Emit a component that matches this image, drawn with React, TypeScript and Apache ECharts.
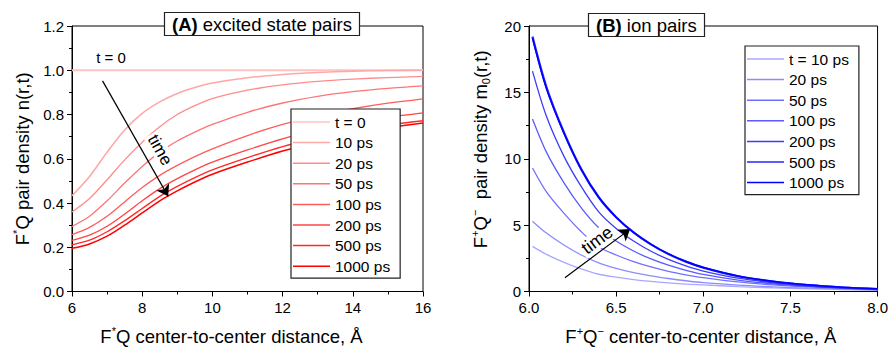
import React, { useEffect, useRef } from "react";
import * as echarts from "echarts";

// ---------- Panel A: excited state pairs ----------
const xA = [6, 6.5, 7, 7.5, 8, 8.5, 9, 9.5, 10, 11, 12, 13, 14, 15, 16];
const namesA = ["A0", "A10", "A20", "A50", "A100", "A200", "A500", "A1000"];
const labelsA = ["t = 0", "10 ps", "20 ps", "50 ps", "100 ps", "200 ps", "500 ps", "1000 ps"];
const nA_t0 = [1, 1, 1, 1, 1, 1, 1, 1, 1, 1, 1, 1, 1, 1, 1];
const nA_10 = [0.433, 0.52, 0.63, 0.73, 0.805, 0.857, 0.895, 0.922, 0.942, 0.966, 0.981, 0.99, 0.996, 0.999, 1.0];
const nA_20 = [0.359, 0.42, 0.505, 0.595, 0.675, 0.745, 0.8, 0.84, 0.872, 0.91, 0.934, 0.95, 0.96, 0.967, 0.972];
const nA_50 = [0.294, 0.34, 0.41, 0.49, 0.565, 0.63, 0.68, 0.72, 0.755, 0.81, 0.852, 0.882, 0.903, 0.918, 0.929];
const nA_100 = [0.257, 0.29, 0.34, 0.405, 0.47, 0.525, 0.57, 0.61, 0.645, 0.705, 0.755, 0.795, 0.826, 0.851, 0.871];
const nA_200 = [0.231, 0.255, 0.295, 0.35, 0.41, 0.465, 0.51, 0.55, 0.585, 0.64, 0.69, 0.73, 0.762, 0.787, 0.807];
const nA_500 = [0.211, 0.232, 0.27, 0.32, 0.375, 0.43, 0.475, 0.515, 0.55, 0.605, 0.655, 0.695, 0.728, 0.753, 0.772];
const nA_1000 = [0.195, 0.215, 0.25, 0.3, 0.355, 0.41, 0.455, 0.495, 0.53, 0.585, 0.635, 0.675, 0.71, 0.74, 0.762];
const seriesA = [nA_t0, nA_10, nA_20, nA_50, nA_100, nA_200, nA_500, nA_1000];
const colorsA = ["#ffc4c4", "#ffa8a8", "#ff8c8c", "#ff7474", "#ff5c5c", "#ff4444", "#ff2a2a", "#ff0000"];
const widthsA = [2, 1.6, 1.3, 1.3, 1.3, 1.3, 1.4, 1.5];
const arrowA = [[6.87, 0.952], [8.74, 0.43]];

// ---------- Panel B: ion pairs ----------
const xB = [6.02, 6.1, 6.2, 6.3, 6.4, 6.5, 6.6, 6.7, 6.8, 6.9, 7.0, 7.2, 7.4, 7.6, 7.8, 8.0];
const namesB = ["B10", "B20", "B50", "B100", "B200", "B500", "B1000"];
const labelsB = ["t = 10 ps", "20 ps", "50 ps", "100 ps", "200 ps", "500 ps", "1000 ps"];
const mB_10 = [3.4, 2.8, 2.2, 1.7, 1.3, 1.08, 0.9, 0.76, 0.65, 0.56, 0.5, 0.37, 0.27, 0.2, 0.15, 0.1];
const mB_20 = [5.3, 4.4, 3.5, 2.75, 2.16, 1.75, 1.43, 1.18, 0.98, 0.81, 0.67, 0.48, 0.35, 0.25, 0.18, 0.12];
const mB_50 = [9.3, 7.5, 5.9, 4.5, 3.35, 2.75, 2.25, 1.85, 1.52, 1.26, 1.04, 0.72, 0.5, 0.35, 0.24, 0.15];
const mB_100 = [13.0, 10.5, 8.2, 6.3, 4.8, 3.8, 3.05, 2.45, 1.98, 1.6, 1.29, 0.86, 0.58, 0.39, 0.26, 0.16];
const mB_200 = [16.6, 13.2, 10.2, 7.9, 6.0, 4.75, 3.8, 3.03, 2.42, 1.93, 1.54, 1.0, 0.66, 0.43, 0.28, 0.17];
const mB_500 = [19.2, 15.4, 12.0, 9.2, 7.1, 5.6, 4.45, 3.55, 2.82, 2.25, 1.8, 1.15, 0.75, 0.48, 0.3, 0.18];
const mB_1000 = [19.1, 15.3, 11.95, 9.2, 7.1, 5.6, 4.45, 3.55, 2.83, 2.26, 1.81, 1.17, 0.77, 0.5, 0.32, 0.2];
const seriesB = [mB_10, mB_20, mB_50, mB_100, mB_200, mB_500, mB_1000];
const colorsB = ["#a8a8ff", "#8c8cff", "#7070ff", "#5a5aff", "#3c3cff", "#2424ff", "#0000ff"];
const widthsB = [1.3, 1.3, 1.3, 1.3, 1.3, 2.2, 1.5];
const arrowB = [[6.206, 1.04], [6.58, 4.7]];

const FONT = '"Liberation Sans", Arial, Helvetica, sans-serif';
const LEGEND_ICON = "path://M0,0 H74 V3 H0 Z";

const nameRich = {
  n: { fontSize: 18.5, fontFamily: FONT, color: "#000" },
  sup: { fontSize: 11, fontFamily: FONT, color: "#000", verticalAlign: "top", lineHeight: 22 },
  sub: { fontSize: 11, fontFamily: FONT, color: "#000", verticalAlign: "bottom", lineHeight: 22 },
};

function axisCommon(min: number, max: number, interval: number, digits: number) {
  return {
    type: "value",
    min,
    max,
    interval,
    axisLine: { show: true, onZero: false, lineStyle: { color: "#000", width: 1 } },
    axisTick: { show: true, length: 5, lineStyle: { color: "#000", width: 1 } },
    minorTick: { show: true, splitNumber: 2, length: 3, lineStyle: { color: "#000", width: 1 } },
    splitLine: { show: false },
    axisLabel: {
      color: "#000",
      fontSize: 15,
      fontFamily: FONT,
      margin: 8,
      formatter: (v: number) => v.toFixed(digits),
    },
  };
}

export default function App() {
  const ref = useRef<HTMLDivElement>(null);
  useEffect(() => {
    if (!ref.current) return;
    const chart = echarts.init(ref.current, null, { renderer: "svg" });

    const series: any[] = [];
    seriesA.forEach((arr, i) => {
      const s: any = {
        name: namesA[i],
        type: "line",
        xAxisIndex: 0,
        yAxisIndex: 0,
        data: xA.map((x, j) => [x, arr[j]]),
        smooth: 0.3,
        symbol: "none",
        lineStyle: { color: colorsA[i], width: widthsA[i] },
        itemStyle: { color: colorsA[i] },
        silent: true,
        z: 2,
      };
      if (i === 0) {
        s.markLine = {
          silent: true,
          symbol: ["none", "arrow"],
          symbolSize: 11,
          label: { show: false },
          lineStyle: { color: "#000", width: 1.2, type: "solid" },
          data: [[{ coord: arrowA[0] }, { coord: arrowA[1] }]],
        };
      }
      series.push(s);
    });
    seriesB.forEach((arr, i) => {
      const s: any = {
        name: namesB[i],
        type: "line",
        xAxisIndex: 1,
        yAxisIndex: 1,
        data: xB.map((x, j) => [x, arr[j]]),
        smooth: 0.3,
        symbol: "none",
        lineStyle: { color: colorsB[i], width: widthsB[i] },
        itemStyle: { color: colorsB[i] },
        silent: true,
        z: 2,
      };
      if (i === 0) {
        s.markLine = {
          silent: true,
          symbol: ["none", "arrow"],
          symbolSize: 11,
          label: { show: false },
          lineStyle: { color: "#000", width: 1.2, type: "solid" },
          data: [[{ coord: arrowB[0] }, { coord: arrowB[1] }]],
        };
      }
      series.push(s);
    });

    const legendCommon = {
      orient: "vertical",
      backgroundColor: "#fff",
      borderColor: "#222",
      borderWidth: 1.2,
      icon: LEGEND_ICON,
      itemWidth: 37,
      itemHeight: 14,
      itemGap: 4.6,
      selectedMode: false,
      textStyle: { color: "#000", fontSize: 15.5, fontFamily: FONT },
      z: 10,
    };

    const titleRich = {
      b: { fontSize: 18.5, fontWeight: "bold", fontFamily: FONT, color: "#000" },
      n: { fontSize: 18.5, fontWeight: "normal", fontFamily: FONT, color: "#000" },
    };

    const option: any = {
      animation: false,
      title: [
        {
          left: 164,
          top: 12,
          text: "{b|(A)}{n| excited state pairs}",
          textStyle: { fontWeight: "normal", rich: titleRich },
          backgroundColor: "#fff",
          borderColor: "#222",
          borderWidth: 1.2,
          padding: [3, 8, 2, 8],
          z: 10,
        },
        {
          left: 588,
          top: 13,
          text: "{b|(B)}{n| ion pairs}",
          textStyle: { fontWeight: "normal", rich: titleRich },
          backgroundColor: "#fff",
          borderColor: "#222",
          borderWidth: 1.2,
          padding: [3, 8, 2, 8],
          z: 10,
        },
      ],
      legend: [
        {
          ...legendCommon,
          left: 291,
          top: 109,
          padding: [5, 10, 4, 2],
          data: namesA,
          formatter: (name: string) => labelsA[namesA.indexOf(name)],
        },
        {
          ...legendCommon,
          left: 745,
          top: 46,
          padding: [5, 10, 4, 2],
          data: namesB,
          formatter: (name: string) => labelsB[namesB.indexOf(name)],
        },
      ],
      grid: [
        { left: 72, top: 26, width: 351, height: 267, show: true, borderColor: "#000", borderWidth: 1, backgroundColor: "transparent" },
        { left: 529, top: 26, width: 350, height: 268, show: true, borderColor: "#000", borderWidth: 1, backgroundColor: "transparent" },
      ],
      xAxis: [
        {
          ...axisCommon(6, 16, 2, 0),
          gridIndex: 0,
          name: "{n|F}{sup|*}{n|Q center-to-center distance, Å}",
          nameLocation: "middle",
          nameGap: 34,
          nameTextStyle: { rich: nameRich, padding: [0, 32, 0, 0] },
        },
        {
          ...axisCommon(6, 8, 0.5, 1),
          gridIndex: 1,
          name: "{n|F}{sup|+}{n|Q}{sup|−}{n| center-to-center distance, Å}",
          nameLocation: "middle",
          nameGap: 34,
          nameTextStyle: { rich: nameRich, padding: [0, 5, 0, 0] },
        },
      ],
      yAxis: [
        {
          ...axisCommon(0, 1.2, 0.2, 1),
          gridIndex: 0,
          name: "{n|F}{sup|*}{n|Q pair density n(r,t)}",
          nameLocation: "middle",
          nameGap: 39,
          nameTextStyle: { rich: nameRich },
        },
        {
          ...axisCommon(0, 20, 5, 0),
          gridIndex: 1,
          name: "{n|F}{sup|+}{n|Q}{sup|−}{n|  pair density m}{sub|0}{n|(r,t)}",
          nameLocation: "middle",
          nameGap: 38,
          nameTextStyle: { rich: nameRich, padding: [0, 0, 0, 19] },
        },
      ],
      graphic: [
        {
          type: "text",
          x: 111,
          y: 57,
          z: 100,
          style: { text: "t = 0", font: `15px ${FONT}`, fill: "#000", align: "center", verticalAlign: "middle" },
        },
        {
          type: "text",
          x: 160,
          y: 150,
          rotation: -1.058,
          z: 100,
          style: {
            text: "time",
            font: `17px ${FONT}`,
            fill: "#000",
            align: "center",
            verticalAlign: "middle",
            backgroundColor: "#fff",
            padding: [0, 2],
          },
        },
        {
          type: "text",
          x: 597,
          y: 240,
          rotation: 0.637,
          z: 100,
          style: {
            text: "time",
            font: `18px ${FONT}`,
            fill: "#000",
            align: "center",
            verticalAlign: "middle",
            backgroundColor: "#fff",
            padding: [0, 2],
          },
        },
      ],
      series,
    };
    chart.setOption(option);
    return () => chart.dispose();
  }, []);
  return (
    <div
      ref={ref}
      style={{ position: "absolute", left: 0, top: 0, width: 891, height: 351, background: "#fff" }}
    />
  );
}
